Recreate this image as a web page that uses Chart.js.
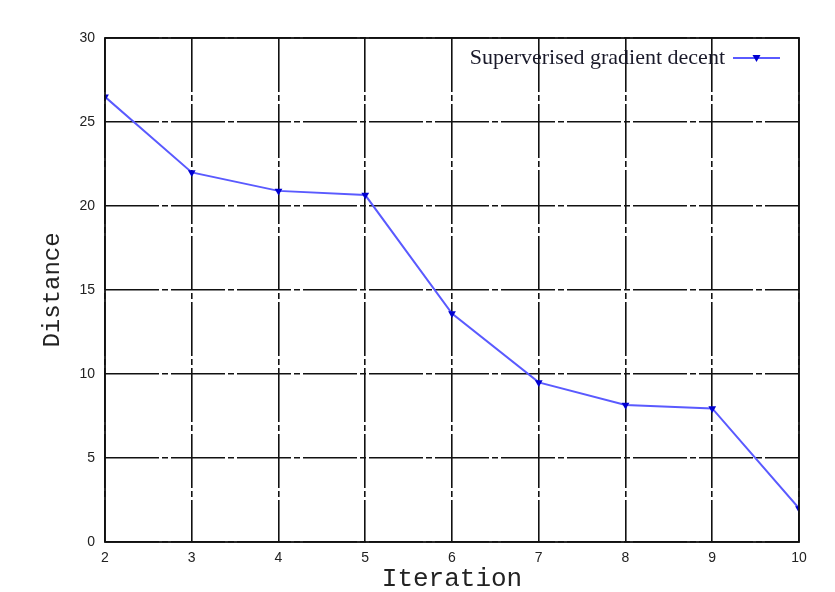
<!DOCTYPE html>
<html>
<head>
<meta charset="utf-8">
<script src="https://cdn.jsdelivr.net/npm/chart.js@4"></script>
<style>
  html, body { margin: 0; padding: 0; background: #fff; }
  #wrap { width: 835px; height: 592px; }
</style>
</head>
<body>
<div id="wrap"><canvas id="distChart" width="835" height="592"></canvas></div>
<script>
// data
const iterations = [2, 3, 4, 5, 6, 7, 8, 9, 10];
const distance = [26.5, 22.0, 20.9, 20.65, 13.6, 9.5, 8.15, 7.95, 2.0];
const seriesLabel = "Superverised gradient decent";
const xTitle = "Iteration";
const yTitle = "Distance";

const lineColor = "rgb(90, 90, 255)";
const markerColor = "#0000d0";

// frame round the plot area (chart.js only draws left/bottom borders)
const framePlugin = {
  id: "frame",
  afterDatasetsDraw(chart) {
    const { ctx, chartArea: a } = chart;
    ctx.save();
    ctx.strokeStyle = "#111";
    ctx.lineWidth = 1.8;
    ctx.strokeRect(a.left, a.top, a.right - a.left, a.bottom - a.top);
    ctx.restore();
  }
};

// gnuplot style key: text first, sample line after it
const keyPlugin = {
  id: "key",
  afterDraw(chart) {
    const { ctx, chartArea: a } = chart;
    const y = a.top + 20;
    const lineEnd = a.right - 19;
    const lineStart = lineEnd - 47;
    ctx.save();
    ctx.font = "22px 'Liberation Serif', serif";
    ctx.fillStyle = "#1a1a2a";
    ctx.textAlign = "right";
    ctx.textBaseline = "middle";
    ctx.fillText(seriesLabel, lineStart - 8, y);
    ctx.strokeStyle = lineColor;
    ctx.lineWidth = 2;
    ctx.beginPath();
    ctx.moveTo(lineStart, y);
    ctx.lineTo(lineEnd, y);
    ctx.stroke();
    // down triangle marker
    const mx = (lineStart + lineEnd) / 2;
    ctx.fillStyle = markerColor;
    ctx.beginPath();
    ctx.moveTo(mx - 4, y - 3);
    ctx.lineTo(mx + 4, y - 3);
    ctx.lineTo(mx, y + 4);
    ctx.closePath();
    ctx.fill();
    ctx.restore();
  }
};

const gridOpts = { color: "#111", lineWidth: 1.6, drawTicks: false };
const borderOpts = { display: false, dash: [54, 3, 6, 3] };

new Chart(document.getElementById("distChart").getContext("2d"), {
  type: "line",
  data: {
    datasets: [{
      label: seriesLabel,
      data: iterations.map((x, i) => ({ x: x, y: distance[i] })),
      borderColor: lineColor,
      borderWidth: 2,
      backgroundColor: markerColor,
      pointStyle: "triangle",
      pointRotation: 180,
      pointRadius: 4.5,
      pointBorderWidth: 0,
      pointBackgroundColor: markerColor,
      tension: 0,
      fill: false
    }]
  },
  options: {
    responsive: false,
    animation: false,
    events: [],
    layout: { padding: { top: 38, right: 36, left: 0, bottom: 0 } },
    plugins: {
      legend: { display: false },
      tooltip: { enabled: false }
    },
    scales: {
      x: {
        type: "linear",
        min: 2,
        max: 10,
        grid: gridOpts,
        border: borderOpts,
        ticks: {
          stepSize: 1,
          padding: 8,
          color: "#222",
          font: { family: "'Liberation Sans', Arial, sans-serif", size: 14 }
        },
        title: {
          display: true,
          text: xTitle,
          color: "#222",
          padding: 0,
          font: { family: "'Liberation Mono', 'DejaVu Sans Mono', monospace", size: 26, lineHeight: 1 }
        },
        afterFit(scale) { scale.height = 50; }
      },
      y: {
        min: 0,
        max: 30,
        grid: gridOpts,
        border: borderOpts,
        ticks: {
          stepSize: 5,
          padding: 10,
          color: "#222",
          font: { family: "'Liberation Sans', Arial, sans-serif", size: 14 }
        },
        title: {
          display: true,
          text: yTitle,
          color: "#222",
          padding: { top: 38, bottom: 0 },
          font: { family: "'Liberation Mono', 'DejaVu Sans Mono', monospace", size: 24, lineHeight: 1.2 }
        },
        afterFit(scale) { scale.width = 105; }
      }
    }
  },
  plugins: [framePlugin, keyPlugin]
});
</script>
</body>
</html>
